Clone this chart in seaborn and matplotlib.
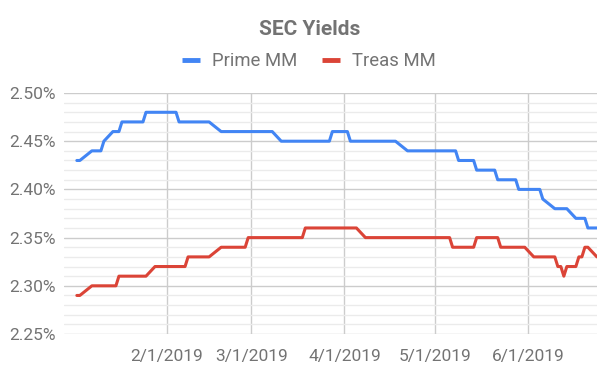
import pandas as pd
import seaborn as sns
import matplotlib.dates as mdates
from matplotlib import pyplot as plt
from matplotlib.ticker import MultipleLocator, FuncFormatter

# corner points of the two step-like series (date, yield in %)
prime_dates = ["2019-01-02", "2019-01-03", "2019-01-07", "2019-01-10", "2019-01-11",
               "2019-01-14", "2019-01-16", "2019-01-17", "2019-01-24", "2019-01-25",
               "2019-02-04", "2019-02-05", "2019-02-15", "2019-02-19", "2019-03-08",
               "2019-03-11", "2019-03-27", "2019-03-28", "2019-04-02", "2019-04-03",
               "2019-04-18", "2019-04-22", "2019-05-08", "2019-05-09", "2019-05-14",
               "2019-05-15", "2019-05-21", "2019-05-22", "2019-05-28", "2019-05-29",
               "2019-06-05", "2019-06-06", "2019-06-10", "2019-06-14", "2019-06-17",
               "2019-06-20", "2019-06-21", "2019-06-24"]
prime_vals = [2.43, 2.43, 2.44, 2.44, 2.45,
              2.46, 2.46, 2.47, 2.47, 2.48,
              2.48, 2.47, 2.47, 2.46, 2.46,
              2.45, 2.45, 2.46, 2.46, 2.45,
              2.45, 2.44, 2.44, 2.43, 2.43,
              2.42, 2.42, 2.41, 2.41, 2.40,
              2.40, 2.39, 2.38, 2.38, 2.37,
              2.37, 2.36, 2.36]

treas_dates = ["2019-01-02", "2019-01-03", "2019-01-07", "2019-01-15", "2019-01-16",
               "2019-01-25", "2019-01-28", "2019-02-07", "2019-02-08", "2019-02-15",
               "2019-02-19", "2019-02-27", "2019-02-28", "2019-03-18", "2019-03-19",
               "2019-04-05", "2019-04-08", "2019-05-06", "2019-05-07", "2019-05-14",
               "2019-05-15", "2019-05-22", "2019-05-23", "2019-05-31", "2019-06-03",
               "2019-06-10", "2019-06-11", "2019-06-12", "2019-06-13", "2019-06-14",
               "2019-06-17", "2019-06-18", "2019-06-19", "2019-06-20", "2019-06-21",
               "2019-06-24"]
treas_vals = [2.29, 2.29, 2.30, 2.30, 2.31,
              2.31, 2.32, 2.32, 2.33, 2.33,
              2.34, 2.34, 2.35, 2.35, 2.36,
              2.36, 2.35, 2.35, 2.34, 2.34,
              2.35, 2.35, 2.34, 2.34, 2.33,
              2.33, 2.32, 2.32, 2.31, 2.32,
              2.32, 2.33, 2.33, 2.34, 2.34,
              2.33]

month_ticks = ["2019-02-01", "2019-03-01", "2019-04-01", "2019-05-01", "2019-06-01"]
month_labels = ["2/1/2019", "3/1/2019", "4/1/2019", "5/1/2019", "6/1/2019"]

df = pd.concat([
    pd.DataFrame({"date": pd.to_datetime(prime_dates), "yield": prime_vals, "fund": "Prime MM"}),
    pd.DataFrame({"date": pd.to_datetime(treas_dates), "yield": treas_vals, "fund": "Treas MM"}),
])

sns.set_style("white")
plt.rcParams["font.family"] = ["Roboto", "DejaVu Sans"]
grey = "#737373"

fig = plt.figure(figsize=(6.16, 3.79), dpi=100)
ax = fig.add_axes([0.104, 0.1187, 0.865, 0.6359])

sns.lineplot(data=df, x="date", y="yield", hue="fund",
             palette={"Prime MM": "#4285F4", "Treas MM": "#DB4437"},
             linewidth=2.2, ax=ax, zorder=3, legend=False)

ax.set_ylim(2.25, 2.50)
ax.set_xlim(pd.Timestamp("2018-12-28 18:00"), pd.Timestamp("2019-06-24"))
ax.yaxis.set_major_locator(MultipleLocator(0.05))
ax.yaxis.set_minor_locator(MultipleLocator(0.01))
ax.yaxis.set_major_formatter(FuncFormatter(lambda v, p: f"{v:.2f}%"))
ax.set_xticks(mdates.date2num(pd.to_datetime(month_ticks)))
ax.set_xticklabels(month_labels)

ax.grid(which="major", axis="both", color="#cccccc", linewidth=1)
ax.grid(which="minor", axis="y", color="#ebebeb", linewidth=1)
ax.set_axisbelow(True)
for s in ax.spines.values():
    s.set_visible(False)
ax.tick_params(axis="both", which="both", length=0, colors=grey, labelsize=12.5)
ax.tick_params(axis="y", pad=6)
ax.tick_params(axis="x", pad=11)
ax.set_xlabel("")
ax.set_ylabel("")

fig.text(0.502, 0.923, "SEC Yields", ha="center", va="center",
         fontsize=15, fontweight="bold", color=grey)
handles = [plt.Line2D([], [], color="#4285F4", linewidth=3.5, solid_capstyle="butt"),
           plt.Line2D([], [], color="#DB4437", linewidth=3.5, solid_capstyle="butt")]
fig.legend(handles, ["Prime MM", "Treas MM"], loc="center", bbox_to_anchor=(0.501, 0.838),
           ncol=2, frameon=False, fontsize=13.3, labelcolor=grey,
           handlelength=0.97, handletextpad=0.65, columnspacing=1.35)

plt.savefig("out.png", dpi=100)
